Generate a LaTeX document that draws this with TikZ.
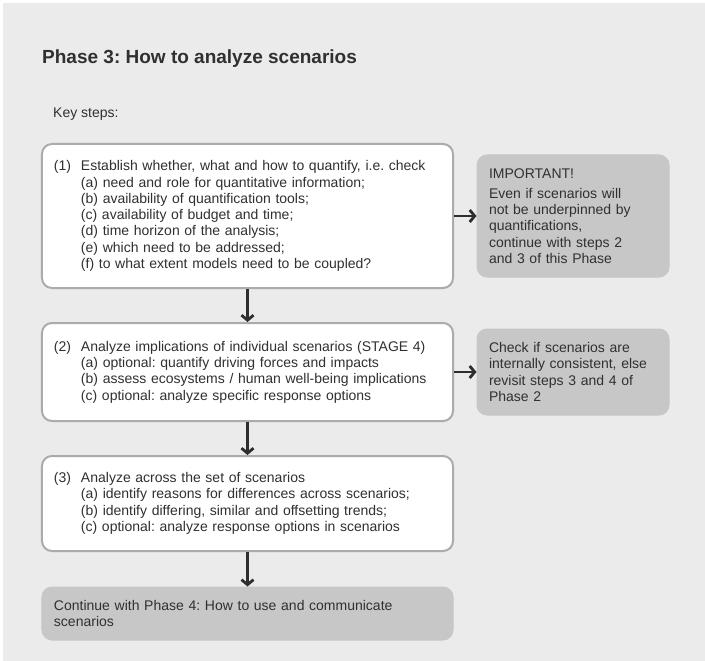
\documentclass[tikz,border=0pt]{standalone}
\usepackage{fontspec}
\setmainfont{Liberation Sans}
\usetikzlibrary{arrows.meta}
\frenchspacing
\definecolor{bgc}{HTML}{EBEBEB}
\definecolor{bordc}{HTML}{ABABAB}
\definecolor{grayfill}{HTML}{C7C7C7}
\definecolor{txt}{HTML}{303030}
\definecolor{arrc}{HTML}{2E2E2E}
\newcommand{\bodyfont}{\fontsize{14bp}{16.3bp}\selectfont}
\newcommand{\lab}[1]{\makebox[27bp][l]{#1}}
\newcommand{\ind}{\hspace*{27bp}}
\tikzset{
  whitebox/.style={draw=bordc, line width=2bp, fill=white, rounded corners=10bp,
    inner xsep=12bp, inner ysep=0pt, align=left, text=txt, font=\bodyfont},
  graybox/.style={draw=grayfill, line width=1bp, fill=grayfill, rounded corners=10bp,
    inner xsep=12bp, inner ysep=0pt, align=left, text=txt, font=\bodyfont},
  arr/.style={draw=arrc, line width=2.8bp, -{Straight Barb[length=5bp,width=12bp,line width=2.8bp]}},
  plain/.style={inner sep=0pt, text=txt}
}
\begin{document}
\begin{tikzpicture}[x=1bp,y=-1bp]
\useasboundingbox (0,0) rectangle (705,661);
\fill[white] (0,0) rectangle (705,661);
\fill[bgc] (3,3) rectangle (705,661);

\node[plain, anchor=base west, font=\fontsize{19bp}{22bp}\selectfont\bfseries] (title) at (42,64) {Phase 3: How to analyze scenarios};
\node[plain, anchor=base west, font=\fontsize{14bp}{16bp}\selectfont] (key) at (53,118) {Key steps:};

\node[whitebox, minimum width=411bp, text width=387bp, minimum height=144bp] (b1) at (247.5,216) {%
\lab{(1)}Establish whether, what and how to quantify, i.e. check\\
\ind(a) need and role for quantitative information;\\
\ind(b) availability of quantification tools;\\
\ind(c) availability of budget and time;\\
\ind(d) time horizon of the analysis;\\
\ind(e) which need to be addressed;\\
\ind(f) to what extent models need to be coupled?};

\node[graybox, minimum width=192bp, text width=168bp, minimum height=122bp] (g1) at (573,216) {%
IMPORTANT!\\[4bp]
Even if scenarios will\\
not be underpinned by\\
quantifications,\\
continue with steps 2\\
and 3 of this Phase};

\node[whitebox, minimum width=411bp, text width=387bp, minimum height=98bp] (b2) at (247.5,372) {%
\lab{(2)}Analyze implications of individual scenarios (STAGE 4)\\
\ind(a) optional: quantify driving forces and impacts\\
\ind(b) assess ecosystems / human well-being implications\\
\ind(c) optional: analyze specific response options};

\node[graybox, minimum width=192bp, text width=168bp, minimum height=86bp] (g2) at (573,372) {%
Check if scenarios are\\
internally consistent, else\\
revisit steps 3 and 4 of\\
Phase 2};

\node[whitebox, minimum width=411bp, text width=387bp, minimum height=95bp] (b3) at (247.5,503.5) {%
\lab{(3)}Analyze across the set of scenarios\\
\ind(a) identify reasons for differences across scenarios;\\
\ind(b) identify differing, similar and offsetting trends;\\
\ind(c) optional: analyze response options in scenarios};

\node[graybox, minimum width=411bp, text width=387bp, minimum height=53bp] (b4) at (247.5,613.5) {%
Continue with Phase 4: How to use and communicate\\
scenarios};

\draw[arr] (b1.south) -- (b2.north);
\draw[arr] (b2.south) -- (b3.north);
\draw[arr] (b3.south) -- (b4.north);
\draw[arr] (b1.east) -- (g1.west);
\draw[arr] (b2.east) -- (g2.west);
\end{tikzpicture}
\end{document}
